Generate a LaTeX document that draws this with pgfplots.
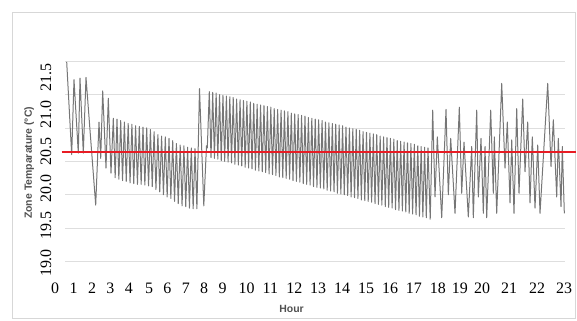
\documentclass[border=0pt]{standalone}
\usepackage{pgfplots}
\pgfplotsset{compat=1.18}
\usepackage{fontspec}
\setmainfont{Liberation Serif}
\setsansfont{Liberation Sans}
\definecolor{gridc}{RGB}{222,222,222}
\definecolor{framec}{RGB}{215,215,215}
\definecolor{linec}{RGB}{118,118,118}
\definecolor{redc}{RGB}{232,28,36}
\definecolor{titc}{RGB}{80,80,80}
\begin{document}
\begin{tikzpicture}
\useasboundingbox (0,0) rectangle (577bp,321bp);
\draw[framec, line width=0.8bp] (12.5bp,3bp) rectangle (575.5bp,308.5bp);
\begin{axis}[
  at={(49.05bp,50.58bp)}, anchor=south west,
  scale only axis, width=515.9bp, height=215.18bp,
  xmin=-0.85, xmax=24, ymin=18.9, ymax=21.8,
  clip=false,
  axis line style={draw=none},
  major tick length=0pt,
  /pgf/number format/assume math mode=true,
  tick label style={font=\rmfamily\fontsize{16}{17}\selectfont, text=black},
  xtick={-0.554,0.332,1.219,2.105,2.991,3.964,4.851,5.737,6.623,7.510,8.661,9.812,10.963,12.115,13.271,14.422,15.573,16.724,17.876,18.940,20.005,21.306,22.654,23.955},
  xticklabels={0,1,2,3,4,5,6,7,8,9,10,11,12,13,14,15,16,17,18,19,20,21,22,23},
  xticklabel style={anchor=north, inner sep=0pt, yshift=-12bp},
  ytick={19.0,19.5,20.0,20.5,21.0,21.5},
  yticklabels={19.0,19.5,20.0,20.5,21.0,21.5},
  yticklabel style={xshift=-3bp, rotate=90, anchor=center, inner sep=0pt},
  xlabel={Hour},
  xlabel style={at={(axis description cs:0.47,-0.18)}, anchor=center, font=\sffamily\bfseries\fontsize{10.5}{12}\selectfont, text=titc},
  ylabel={Zone Temparature (°C)},
  ylabel style={at={(axis description cs:-0.0385,0.5)}, anchor=center, font=\sffamily\bfseries\fontsize{10.5}{12}\selectfont, text=titc},
]
\foreach \g in {19.02,19.47,19.92,20.37,20.82,21.27,21.72}{
  \edef\tmp{\noexpand\draw[gridc, line width=0.9bp] (axis cs:-0.08,\g) -- (axis cs:24,\g);}\tmp
}
\addplot[linec, line width=1bp, line join=round] coordinates {
(0.000,21.71) (0.241,20.46) (0.352,21.47) (0.559,20.48) (0.641,21.49) (0.800,20.48) (0.930,21.50)
(1.397,19.78) (1.556,20.90) (1.638,20.41) (1.734,21.32) (1.893,20.28) (2.004,21.22) (2.134,20.21)
(2.245,20.95) (2.334,20.15) (2.423,20.94) (2.512,20.13) (2.601,20.92) (2.690,20.11)
(2.779,20.90) (2.868,20.10) (2.962,20.88) (3.052,20.08) (3.141,20.87) (3.230,20.07)
(3.319,20.85) (3.408,20.06) (3.497,20.84) (3.586,20.06) (3.675,20.83) (3.765,20.05)
(3.854,20.82) (3.943,20.04) (4.032,20.80) (4.121,20.03) (4.210,20.77) (4.299,19.99)
(4.393,20.73) (4.482,19.96) (4.571,20.71) (4.660,19.92) (4.750,20.70) (4.839,19.89)
(4.928,20.68) (5.017,19.87) (5.106,20.65) (5.195,19.83) (5.284,20.61) (5.373,19.80)
(5.467,20.59) (5.557,19.77) (5.646,20.58) (5.735,19.76) (5.824,20.56) (5.913,19.74)
(6.002,20.55) (6.091,19.73) (6.180,20.54)
(6.272,19.73) (6.397,21.35) (6.604,19.77) (6.734,20.58) (6.773,20.55)
(6.869,21.31) (6.951,20.42) (7.034,21.30) (7.116,20.41) (7.198,21.29) (7.280,20.40)
(7.363,21.27) (7.445,20.38) (7.527,21.26) (7.609,20.37) (7.692,21.25) (7.774,20.36)
(7.857,21.24) (7.939,20.35) (8.021,21.23) (8.103,20.33) (8.186,21.21) (8.268,20.32)
(8.350,21.20) (8.432,20.31) (8.515,21.19) (8.597,20.29) (8.680,21.18) (8.762,20.28)
(8.844,21.17) (8.926,20.27) (9.009,21.15) (9.091,20.25) (9.173,21.14) (9.255,20.24)
(9.338,21.13) (9.420,20.23) (9.503,21.12) (9.585,20.22) (9.667,21.11) (9.749,20.20)
(9.832,21.10) (9.914,20.19) (9.996,21.08) (10.078,20.18) (10.161,21.07) (10.243,20.16)
(10.326,21.06) (10.408,20.15) (10.490,21.05) (10.572,20.14) (10.655,21.04) (10.737,20.13)
(10.819,21.02) (10.901,20.11) (10.984,21.01) (11.066,20.10) (11.149,21.00) (11.231,20.09)
(11.313,20.99) (11.395,20.07) (11.478,20.98) (11.560,20.06) (11.642,20.96) (11.724,20.05)
(11.807,20.95) (11.889,20.03) (11.972,20.94) (12.054,20.02) (12.136,20.93) (12.218,20.01)
(12.301,20.92) (12.383,20.00) (12.465,20.90) (12.547,19.98) (12.630,20.89) (12.712,19.97)
(12.795,20.88) (12.877,19.96) (12.959,20.87) (13.041,19.94) (13.124,20.86) (13.206,19.93)
(13.288,20.85) (13.370,19.92) (13.453,20.83) (13.535,19.91) (13.618,20.82) (13.700,19.89)
(13.782,20.81) (13.864,19.88) (13.947,20.80) (14.029,19.87) (14.111,20.79) (14.193,19.85)
(14.276,20.77) (14.358,19.84) (14.441,20.76) (14.523,19.83) (14.605,20.75) (14.687,19.82)
(14.770,20.74) (14.852,19.80) (14.934,20.73) (15.016,19.79) (15.099,20.71) (15.181,19.78)
(15.264,20.70) (15.346,19.76) (15.428,20.69) (15.510,19.75) (15.593,20.68) (15.675,19.74)
(15.757,20.67) (15.839,19.72) (15.922,20.65) (16.004,19.71) (16.087,20.64) (16.169,19.70)
(16.251,20.63) (16.333,19.69) (16.416,20.62) (16.498,19.67) (16.580,20.61) (16.662,19.66)
(16.745,20.60) (16.827,19.65) (16.910,20.58) (16.992,19.63) (17.074,20.57) (17.156,19.62)
(17.239,20.56) (17.321,19.61) (17.403,20.55)
(17.510,19.59) (17.630,21.06) (17.741,19.89) (17.852,20.70) (18.064,19.61) (18.271,21.07)
(18.382,19.92) (18.497,20.68) (18.705,19.67) (18.912,21.10) (19.027,19.94) (19.138,20.63)
(19.345,19.62) (19.509,20.57) (19.586,19.61) (19.750,21.06) (19.827,19.89) (19.957,20.68)
(20.068,19.67) (20.150,20.57) (20.231,19.61) (20.424,21.06) (20.549,19.94) (20.598,20.70)
(20.713,19.67) (20.954,21.42) (21.113,20.28) (21.224,20.90) (21.354,19.81) (21.436,20.66)
(21.546,19.67) (21.677,21.08) (21.787,19.94) (21.966,21.21) (22.076,20.23) (22.206,20.90)
(22.317,19.81) (22.428,20.70) (22.558,19.74) (22.688,20.59) (22.799,19.67) (23.170,21.42)
(23.329,20.30) (23.440,20.93) (23.603,19.89) (23.680,20.68) (23.810,19.76) (23.873,20.57)
(23.970,19.67)
};
\addplot[redc, line width=2bp] coordinates {(-0.24,20.5) (24.55,20.5)};
\end{axis}
\end{tikzpicture}
\end{document}
